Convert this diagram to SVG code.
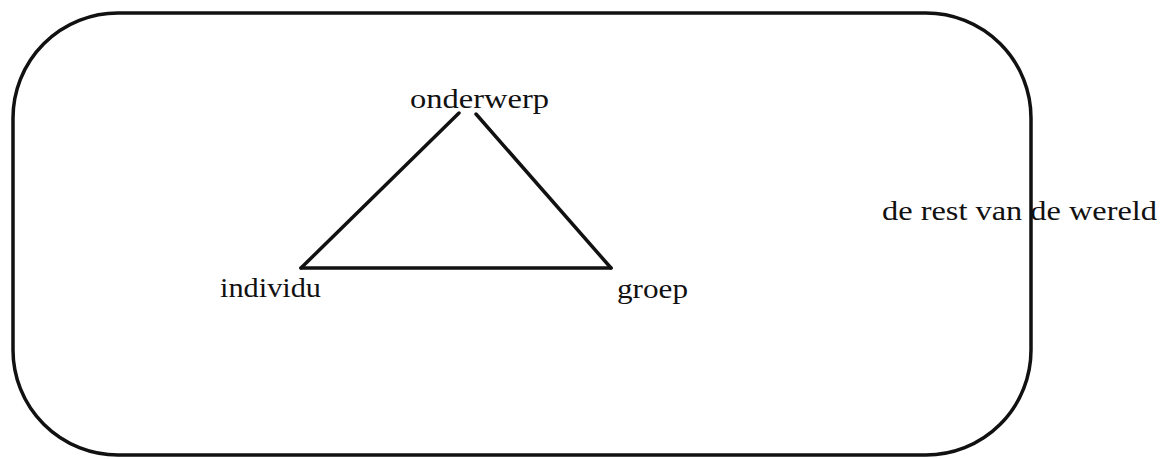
<svg xmlns="http://www.w3.org/2000/svg" width="1168" height="459" viewBox="0 0 1168 459">
<style>
.t{font-family:"Liberation Serif","Times New Roman",serif;font-size:28px;fill:#111}
.ln{stroke:#111;stroke-width:3.5;fill:none;stroke-linecap:round;stroke-linejoin:round}
</style>
<rect width="1168" height="459" fill="#fff"/>
<g id="world">
<text class="t" x="882" y="220" textLength="275" lengthAdjust="spacingAndGlyphs">de rest van de wereld</text>
<rect class="ln" x="13" y="13" width="1018" height="442" rx="105" ry="105"/>
</g>
<g id="connectors">
<line class="ln" x1="459" y1="113" x2="301" y2="268"/>
<line class="ln" x1="476" y1="114" x2="611" y2="268"/>
<line class="ln" x1="301" y1="268" x2="611" y2="268"/>
</g>
<g id="onderwerp">
<text class="t" x="410" y="108" textLength="139" lengthAdjust="spacingAndGlyphs">onderwerp</text>
</g>
<g id="individu">
<text class="t" x="220" y="297" textLength="101" lengthAdjust="spacingAndGlyphs">individu</text>
</g>
<g id="groep">
<text class="t" x="617" y="298" textLength="71" lengthAdjust="spacingAndGlyphs">groep</text>
</g>
</svg>
